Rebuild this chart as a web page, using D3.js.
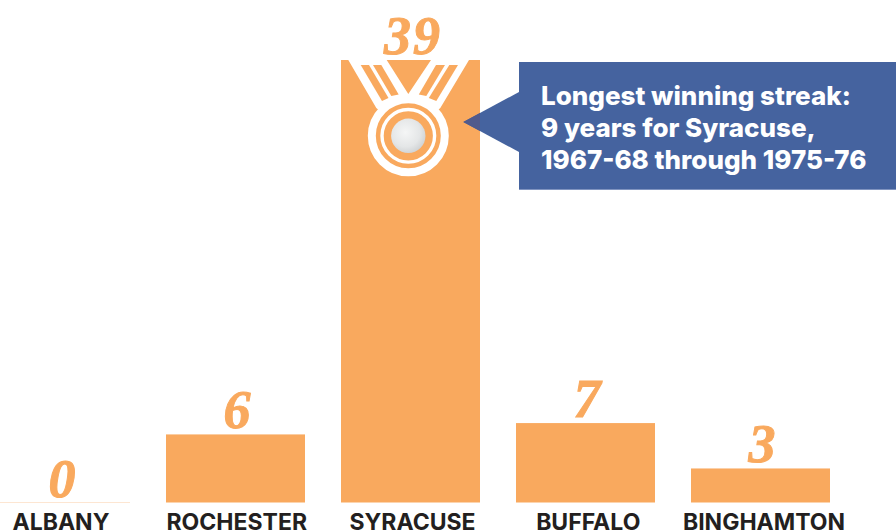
<!DOCTYPE html>
<html>
<head>
<meta charset="utf-8">
<script src="https://cdn.jsdelivr.net/npm/d3@7"></script>
<style>
  html, body { margin: 0; padding: 0; background: #fff; overflow: hidden; }
  svg { display: block; }
  .value { font-family: "Liberation Serif", serif; font-weight: 700; font-style: italic; font-size: 54px; fill: #f9a95e; stroke: #f9a95e; stroke-width: 1; text-anchor: middle; letter-spacing: 2px; }
  .cat { font-family: Inter, sans-serif; font-weight: 700; font-size: 23px; fill: #231f20; text-anchor: middle; }
  .note { font-family: Inter, sans-serif; font-weight: 800; font-size: 26px; fill: #fff; }
</style>
</head>
<body>
<script>
const categories = ["ALBANY", "ROCHESTER", "SYRACUSE", "BUFFALO", "BINGHAMTON"];
const wins = [0, 6, 39, 7, 3];
const noteLines = ["Longest winning streak:", "9 years for Syracuse,", "1967-68 through 1975-76"];

const W = 896, H = 532;
const ORANGE = "#f9a95e", BLUE = "#45639f";

const svg = d3.select("body").append("svg").attr("width", W).attr("height", H);

const x = d3.scaleBand().domain(categories).range([-9, 830]).paddingInner(36 / 175);
const y = d3.scaleLinear().domain([0, 39]).range([502.5, 60]);
// the names sit on a slightly wider spacing than the bars
const labelX = d3.scalePoint().domain(categories).range([61, 764]);

// bars
svg.append("g").selectAll("rect").data(categories).enter().append("rect")
  .attr("x", (d) => x(d))
  .attr("width", x.bandwidth())
  .attr("y", (d, i) => y(wins[i]))
  .attr("height", (d, i) => y(0) - y(wins[i]))
  .attr("fill", ORANGE);

// Albany has no bar, just a faint baseline
svg.append("line")
  .attr("x1", x("ALBANY")).attr("x2", x("ALBANY") + x.bandwidth())
  .attr("y1", y(0)).attr("y2", y(0))
  .attr("stroke", "#fde6d2").attr("stroke-width", 1);

// value labels
svg.append("g").selectAll("text").data(categories).enter().append("text")
  .attr("class", "value")
  .attr("x", (d) => x(d) + x.bandwidth() / 2 + 2.5)
  .attr("y", (d, i) => y(wins[i]) - 6)
  .text((d, i) => wins[i]);

// category labels
svg.append("g").selectAll("text").data(categories).enter().append("text")
  .attr("class", "cat")
  .attr("x", (d) => labelX(d))
  .attr("y", 529.5)
  .text((d) => d);

// medal on the Syracuse bar, offsets are from the medal centre and the bar top
const barX = x("SYRACUSE");
const barTop = y(39);
const cx = barX + 67.3, cy = 135.8;
const medal = svg.append("g");
const bandOutline = [[-60, 0], [-21.6, 0], [0, 34], [22.7, 0], [60.7, 0], [32, 48], [0, 76], [-32, 48]];
const slits = [
  [[-47.6, 5], [-39.3, 5], [-19.8, 38], [-26.3, 41]],
  [[-35.3, 5], [-27, 5], [-9.6, 34.5], [-17, 36]],
  [[27.7, 5], [36.7, 5], [18, 36], [10.5, 34.5]],
  [[41, 5], [49.7, 5], [28, 41], [20.5, 38]]
];
const toPoints = (pts) => pts.map((p) => [cx + p[0], barTop + p[1]].join(",")).join(" ");
medal.append("polygon").attr("points", toPoints(bandOutline)).attr("fill", "#fff");
medal.selectAll("polygon.slit").data(slits).enter().append("polygon")
  .attr("class", "slit")
  .attr("points", toPoints)
  .attr("fill", ORANGE);
medal.append("circle").attr("cx", cx).attr("cy", cy).attr("r", 36.5).attr("fill", ORANGE)
  .attr("stroke", "#fff").attr("stroke-width", 8);
medal.append("circle").attr("cx", cx).attr("cy", cy).attr("r", 26.3).attr("fill", ORANGE)
  .attr("stroke", "#fff").attr("stroke-width", 3.4);

const grad = svg.append("defs").append("radialGradient").attr("id", "pearl")
  .attr("cx", "42%").attr("cy", "40%").attr("r", "65%");
grad.append("stop").attr("offset", "0%").attr("stop-color", "#f5f6f6");
grad.append("stop").attr("offset", "65%").attr("stop-color", "#e4e6e7");
grad.append("stop").attr("offset", "100%").attr("stop-color", "#cdd0d2");
medal.append("circle").attr("cx", cx).attr("cy", cy).attr("r", 17.2).attr("fill", "url(#pearl)");

// callout
const barRight = barX + x.bandwidth();
const boxX = 519, boxY = 62, boxB = 190, tipX = 463.3, tipY = 122;
svg.append("rect").attr("x", boxX).attr("y", boxY).attr("width", W - boxX).attr("height", boxB - boxY).attr("fill", BLUE);
svg.append("rect").attr("x", boxX).attr("y", boxB - 1).attr("width", W - boxX).attr("height", 1).attr("fill", "#8094c0");
svg.append("polygon")
  .attr("points", `${boxX},92 ${tipX},${tipY} ${boxX},152`)
  .attr("fill", BLUE);
// where the pointer overlaps the bar it prints darker
const t = (barRight - tipX) / (boxX - tipX);
svg.append("polygon")
  .attr("points", `${tipX},${tipY} ${barRight},${tipY - 30 * t} ${barRight},${tipY + 30 * t}`)
  .attr("fill", "#515a8c");

svg.append("g").selectAll("text").data(noteLines).enter().append("text")
  .attr("class", "note")
  .attr("x", 541)
  .attr("y", (d, i) => 104.5 + i * 32.3)
  .text((d) => d);
</script>
</body>
</html>
